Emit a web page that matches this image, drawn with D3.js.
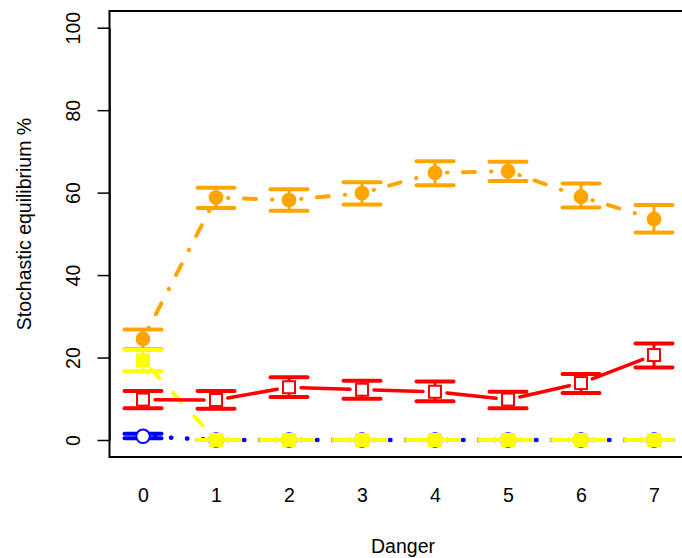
<!DOCTYPE html>
<html>
<head>
<meta charset="utf-8">
<script src="https://cdn.jsdelivr.net/npm/d3@7"></script>
<style>
html,body{margin:0;padding:0;background:#fff;}
svg{display:block;}
text{font-family:"Liberation Sans", Arial, Helvetica, sans-serif;fill:#000;}
</style>
</head>
<body>
<svg id="chart" width="682" height="558"></svg>
<script>
// ---- data ----
const danger = [0, 1, 2, 3, 4, 5, 6, 7];
const yTicks = [0, 20, 40, 60, 80, 100];

const orangeMean = [24.5, 58.8, 58.2, 59.9, 64.8, 65.2, 59.0, 53.6];
const orangeLo   = [22.0, 56.3, 55.6, 57.1, 61.8, 62.8, 56.4, 50.3];
const orangeHi   = [26.8, 61.2, 60.8, 62.5, 67.6, 67.5, 62.2, 57.0];

const redMean = [9.8, 9.7, 12.8, 12.2, 11.7, 9.8, 13.8, 20.6];
const redLo   = [7.7, 7.6, 10.4, 10.0, 9.4, 7.7, 11.4, 17.6];
const redHi   = [11.9, 11.9, 15.2, 14.4, 14.2, 11.7, 16.0, 23.4];

const yellowMean = [19.3, 0, 0, 0, 0, 0, 0, 0];
const yellowLo   = [16.7, 0, 0, 0, 0, 0, 0, 0];
const yellowHi   = [21.8, 0, 0, 0, 0, 0, 0, 0];

const blueMean = [0.9, 0, 0, 0, 0, 0, 0, 0];
const blueLo   = [0.4, 0, 0, 0, 0, 0, 0, 0];
const blueHi   = [1.5, 0, 0, 0, 0, 0, 0, 0];

const xTitle = "Danger";
const yTitle = "Stochastic equilibrium %";

// ---- layout ----
const svg = d3.select("#chart");
const x = d3.scaleLinear().domain([0, 7]).range([143, 654]);
const y = d3.scaleLinear().domain([0, 100]).range([440, 27.7]);
const box = {left: 109.5, top: 11, right: 700, bottom: 457};
const font = 19.5;

// series definitions (built from arrays)
const series = [
  {name: "blue", color: "#0000FF", mean: blueMean, lo: blueLo, hi: blueHi,
   dash: "0.5,15.5", lw: 4.5, shape: "circleOpen"},
  {name: "orange", color: "#FFA500", mean: orangeMean, lo: orangeLo, hi: orangeHi,
   dash: "0.5,15.5,12,16", lw: 4, shape: "circleFilled"},
  {name: "yellow", color: "#FFFF00", mean: yellowMean, lo: yellowLo, hi: yellowHi,
   dash: "12,20", lw: 4, shape: "squareFilled"},
  {name: "red", color: "#FF0000", mean: redMean, lo: redLo, hi: redHi,
   dash: null, lw: 3.5, shape: "squareOpen"}
];

const gap = 12;   // type="b" gap around points
const capHalf = 18.5;

series.forEach(s => {
  const g = svg.append("g").attr("class", "series-" + s.name);
  const pts = danger.map((d, i) => ({px: x(d), py: y(s.mean[i]), lo: y(s.lo[i]), hi: y(s.hi[i])}));

  // error bars
  pts.forEach(p => {
    if (Math.abs(p.hi - p.lo) > 0.01) {
      g.append("line").attr("x1", p.px).attr("x2", p.px).attr("y1", p.hi).attr("y2", p.lo)
        .attr("stroke", s.color).attr("stroke-width", 3);
    }
    [p.hi, p.lo].forEach(cy => {
      g.append("line").attr("x1", p.px - capHalf).attr("x2", p.px + capHalf)
        .attr("y1", cy).attr("y2", cy)
        .attr("stroke", s.color).attr("stroke-width", 4).attr("stroke-linecap", "round");
    });
  });

  // connecting line with gaps (type = "b")
  for (let i = 0; i < pts.length - 1; i++) {
    const a = pts[i], b = pts[i + 1];
    const dx = b.px - a.px, dy = b.py - a.py;
    const len = Math.hypot(dx, dy);
    if (len <= 2 * gap) continue;
    const ux = dx / len, uy = dy / len;
    const ln = g.append("line")
      .attr("x1", a.px + ux * gap).attr("y1", a.py + uy * gap)
      .attr("x2", b.px - ux * gap).attr("y2", b.py - uy * gap)
      .attr("stroke", s.color).attr("stroke-width", s.lw).attr("stroke-linecap", "round");
    if (s.dash) ln.attr("stroke-dasharray", s.dash);
  }

  // points
  pts.forEach(p => {
    if (s.shape === "circleOpen") {
      g.append("circle").attr("cx", p.px).attr("cy", p.py).attr("r", 6.8)
        .attr("fill", "#fff").attr("stroke", s.color).attr("stroke-width", 2);
    } else if (s.shape === "circleFilled") {
      g.append("circle").attr("cx", p.px).attr("cy", p.py).attr("r", 7.4)
        .attr("fill", s.color);
    } else if (s.shape === "squareFilled") {
      g.append("rect").attr("x", p.px - 7).attr("y", p.py - 7).attr("width", 14).attr("height", 14)
        .attr("fill", s.color);
    } else {
      g.append("rect").attr("x", p.px - 6).attr("y", p.py - 6).attr("width", 12).attr("height", 12)
        .attr("fill", "#fff").attr("stroke", s.color).attr("stroke-width", 2);
    }
  });
});

// plot box (open on the right: clipped by the page)
svg.append("rect").attr("x", box.left).attr("y", box.top)
  .attr("width", box.right - box.left).attr("height", box.bottom - box.top)
  .attr("fill", "none").attr("stroke", "#000").attr("stroke-width", 2);

// y axis
const yAxis = d3.axisLeft(y).tickValues(yTicks).tickSize(12).tickSizeOuter(0).tickPadding(0);
const ya = svg.append("g").attr("transform", `translate(${box.left},0)`).call(yAxis);
ya.select(".domain").attr("stroke", "#000").attr("stroke-width", 1.5);
ya.selectAll(".tick line").attr("stroke", "#000").attr("stroke-width", 1.5);
ya.selectAll(".tick text").remove();
ya.selectAll(".tick").append("text")
  .attr("transform", "translate(-29.5,0) rotate(-90)")
  .attr("text-anchor", "middle")
  .attr("font-size", font)
  .text(d => d);

// x axis (labels only)
const xAxis = d3.axisBottom(x).tickValues(danger).tickSize(0).tickPadding(0);
const xa = svg.append("g").attr("transform", `translate(0,${box.bottom})`).call(xAxis);
xa.select(".domain").remove();
xa.selectAll(".tick text").remove();
xa.selectAll(".tick").append("text")
  .attr("y", 45).attr("text-anchor", "middle").attr("font-size", font)
  .text(d => d);

// axis titles
svg.append("text").attr("x", 403).attr("y", 553)
  .attr("text-anchor", "middle").attr("font-size", font).text(xTitle);
svg.append("text").attr("transform", "translate(31,224) rotate(-90)")
  .attr("text-anchor", "middle").attr("font-size", font).text(yTitle);
</script>
</body>
</html>
